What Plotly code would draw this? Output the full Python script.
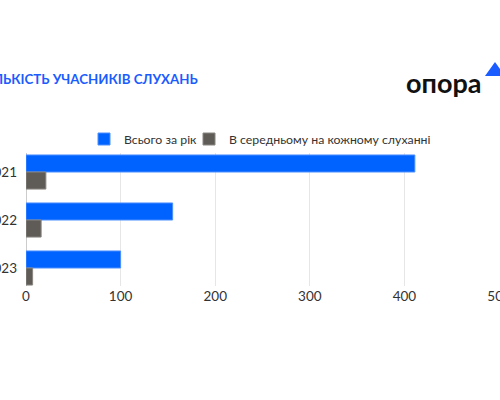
import plotly.graph_objects as go

years = ["2021", "2022", "2023"]
total_per_year = [411, 155, 100]
avg_per_hearing = [21, 16, 7]
series_names = ["Всього за рік", "В середньому на кожному слуханні"]
x_ticks = [0, 100, 200, 300, 400, 500]
title_text = "КІЛЬКІСТЬ УЧАСНИКІВ СЛУХАНЬ"
logo_text = "опора"

BLUE = "#0062ff"
GRAY = "#5f5b56"
FONT = "Lato"

fig = go.Figure()
fig.add_trace(go.Bar(y=years, x=total_per_year, name=series_names[0], orientation="h",
                     legend="legend",
                     marker=dict(color=BLUE, line=dict(color="#4d8fff", width=1))))
fig.add_trace(go.Bar(y=years, x=avg_per_hearing, name=series_names[1], orientation="h",
                     legend="legend2",
                     marker=dict(color=GRAY, line=dict(color="#8a8682", width=1))))

W, H = 500, 400
L, R, T, B = 26, 0, 153, 114
pw, ph = W - L - R, H - T - B

def px(x):
    return (x - L) / pw

def py(y):
    return (H - B - y) / ph

legend_common = dict(orientation="h", xanchor="left", y=py(139), yanchor="middle",
                     font=dict(size=12.3, color="#333333"), itemwidth=30,
                     bgcolor="rgba(0,0,0,0)", borderwidth=0)

fig.update_layout(
    width=W, height=H,
    margin=dict(l=L, r=R, t=T, b=B, autoexpand=False),
    paper_bgcolor="white", plot_bgcolor="white",
    barmode="group", bargap=0.29, bargroupgap=0,
    font=dict(family=FONT, size=13, color="#333333"),
    showlegend=True,
    legend=dict(x=px(98 - 14), **legend_common),
    legend2=dict(x=px(203 - 14), **legend_common),
    xaxis=dict(range=[0, 501], tickvals=x_ticks, showgrid=True, gridcolor="#e6e6e6",
               gridwidth=1, zeroline=True, zerolinecolor="#cccccc", zerolinewidth=1,
               showline=False, ticks="", tickfont=dict(size=13.5, color="#333333"),
               ticklabeloverflow="allow", automargin=False, fixedrange=True),
    yaxis=dict(type="category", range=[2.375, -0.396], showgrid=False, zeroline=False,
               showline=False, ticks="", ticklabelstandoff=8,
               tickfont=dict(size=13.5, color="#333333"), automargin=False),
)

fig.add_annotation(text="<b>" + title_text + "</b>", xref="paper", yref="paper",
                   x=px(200), y=py(79), xanchor="right", yanchor="middle", showarrow=False,
                   font=dict(family="Lato", size=13.3, color="#1a5cff"))
fig.add_annotation(text="<b>" + logo_text + "</b>", xref="paper", yref="paper",
                   x=px(443.5), y=py(82), xanchor="center", yanchor="middle", showarrow=False,
                   font=dict(family="Lato", size=27, color="#111111"))
fig.add_shape(type="path", xref="paper", yref="paper",
              path=f"M {px(485)} {py(76)} L {px(495)} {py(62)} L {px(505)} {py(76)} Z",
              fillcolor="#1a5cff", line=dict(width=0))

fig.write_html("out.html", config={"displayModeBar": False},
               post_script="document.body.style.margin='0';document.body.style.overflow='hidden';")
